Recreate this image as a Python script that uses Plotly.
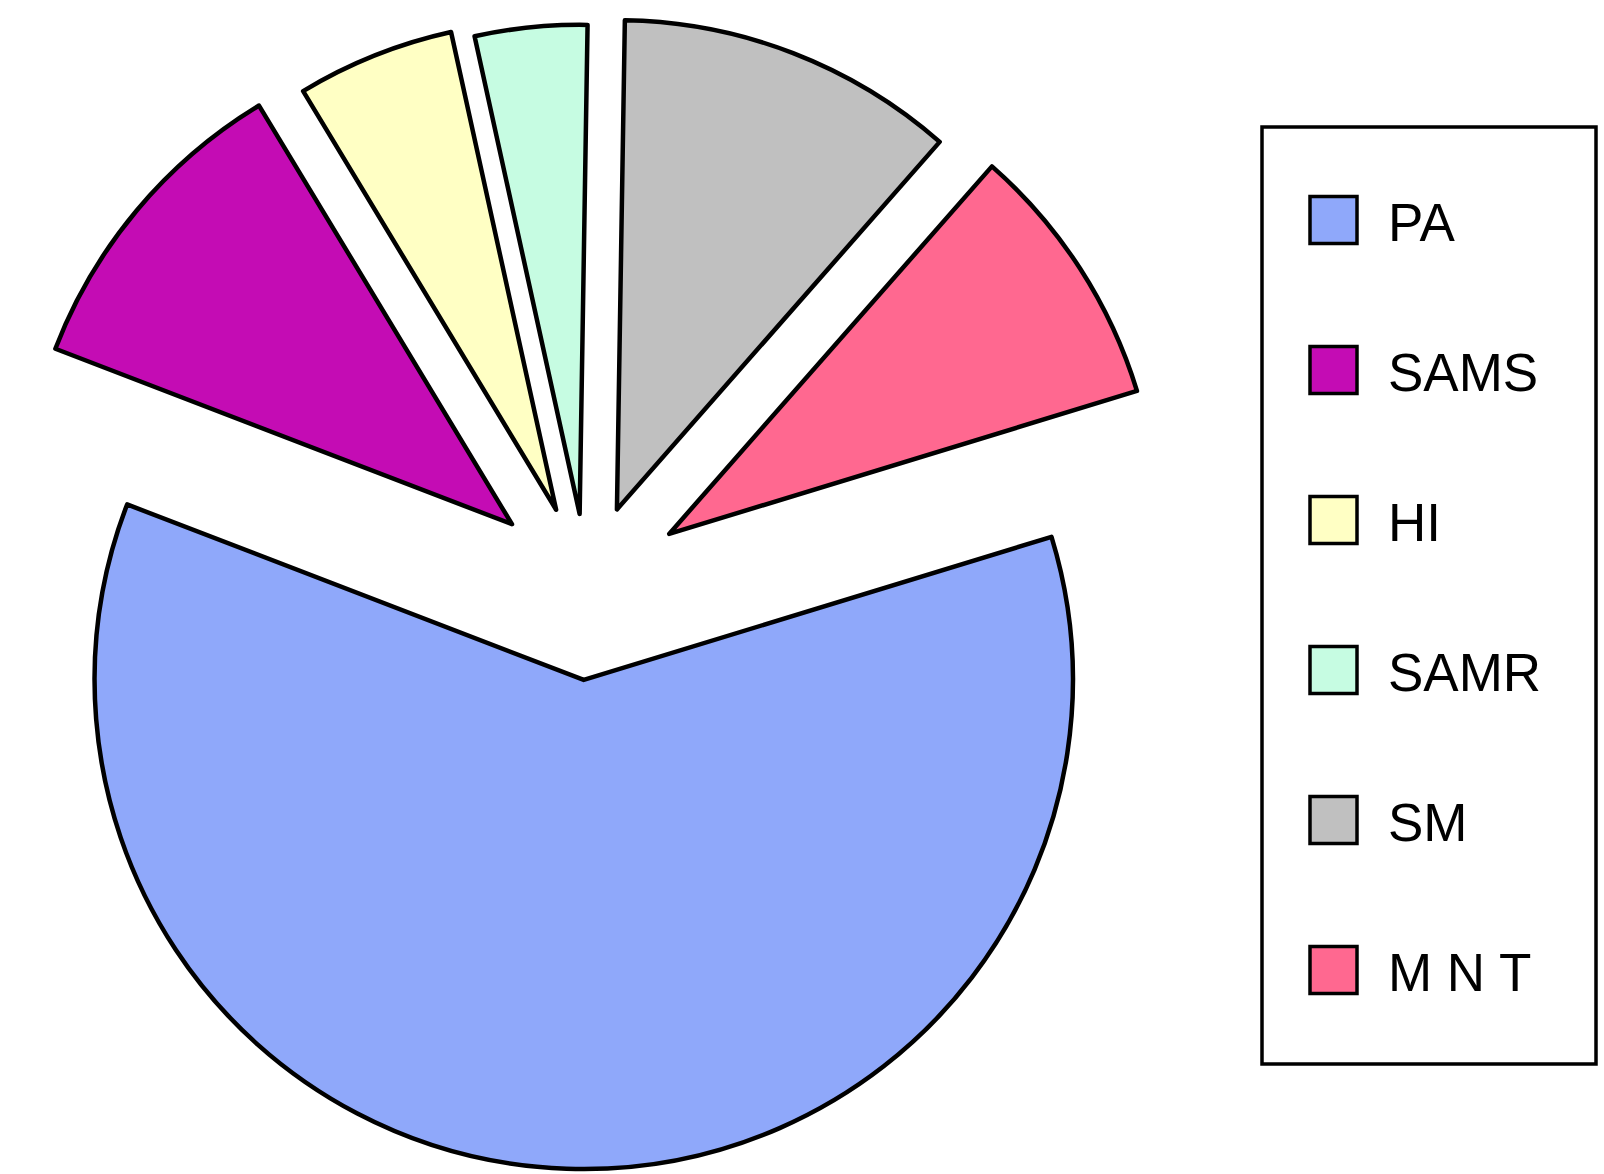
import plotly.graph_objects as go

# slice shares (percent)
labels = ["PA", "SAMS", "HI", "SAMR", "SM", "M N T"]
shares = [60.5, 10.5, 5.2, 3.7, 11.2, 8.8]

colors = ["#8fa8fa", "#c40cb4", "#ffffc4", "#c6fce2", "#c0c0c0", "#ff6890"]
pulls = [0.19, 0.2, 0.17, 0.15, 0.17, 0.2]

W, H = 1604, 1174


def px(x, y):
    # pixel -> paper coords
    return x / W, 1 - y / H


fig = go.Figure(go.Pie(
    labels=labels, values=shares, sort=False,
    direction="clockwise", rotation=73, pull=pulls,
    textinfo="none", hoverinfo="label+percent",
    marker=dict(colors=colors, line=dict(color="black", width=4.5)),
    domain=dict(x=[0, 0.7319], y=[0, 1]),
))

# hand-drawn legend box with big swatches like the original
x0, y0 = px(1262, 127)
x1, y1 = px(1596, 1064)
shapes = [dict(type="rect", xref="paper", yref="paper", x0=x0, y0=y0, x1=x1, y1=y1,
               line=dict(color="black", width=3.5), fillcolor="rgba(0,0,0,0)")]
annotations = []
for i, (lab, col) in enumerate(zip(labels, colors)):
    yc = 220 + 150 * i
    sx0, sy0 = px(1310, yc - 23.5)
    sx1, sy1 = px(1357, yc + 23.5)
    shapes.append(dict(type="rect", xref="paper", yref="paper",
                       x0=sx0, y0=sy0, x1=sx1, y1=sy1,
                       line=dict(color="black", width=3.5), fillcolor=col))
    tx, ty = px(1386, yc + 2)
    annotations.append(dict(x=tx, y=ty, xref="paper", yref="paper", text=lab,
                            showarrow=False, xanchor="left", yanchor="middle",
                            font=dict(size=53, color="black",
                                      family="Liberation Sans, Arial, sans-serif")))

fig.update_layout(width=W, height=H, margin=dict(l=0, r=0, t=0, b=0),
                  showlegend=False, paper_bgcolor="white",
                  shapes=shapes, annotations=annotations)

# page body has an 8px default margin, drop it so the figure fills the window
fig.write_html("out.html", config={"displayModeBar": False},
               post_script="document.body.style.margin='0';")
